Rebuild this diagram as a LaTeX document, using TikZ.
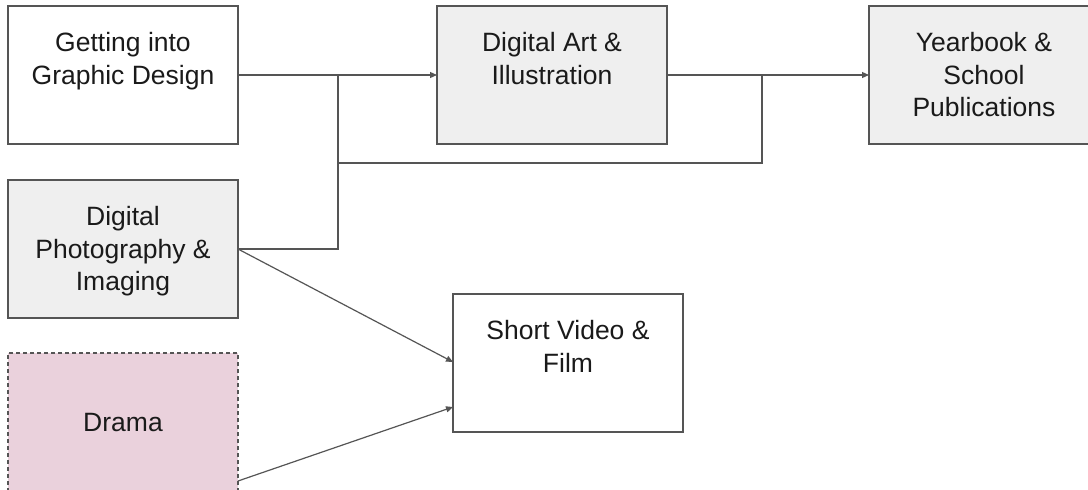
\documentclass[tikz,border=0pt]{standalone}
\usepackage{fontspec}
\setmainfont{Liberation Sans}
\usetikzlibrary{arrows.meta}
\definecolor{edgegray}{HTML}{555555}
\definecolor{lightfill}{HTML}{EFEFEF}
\definecolor{pinkfill}{HTML}{EAD1DC}
\definecolor{textgray}{HTML}{1A1A1A}
\begin{document}
\begin{tikzpicture}[x=1pt,y=-1pt,
  box/.style={draw=edgegray, line width=1.3pt, rectangle, anchor=north west,
    minimum width=230pt, minimum height=138pt, inner sep=0pt, outer sep=0pt,
    align=center, text=textgray, font=\fontsize{26.5}{32.5}\selectfont},
  twolines/.style={text height=51.5pt, text depth=33.5pt},
  threelines/.style={text height=84pt, text depth=1pt},
  graybox/.style={box, fill=lightfill},
  whitebox/.style={box, fill=white},
  dramabox/.style={box, dashed, dash pattern=on 4pt off 3pt,
    fill=pinkfill, minimum height=140pt},
  conn/.style={draw=edgegray, line width=1.2pt},
  arr/.style={conn, -{Triangle[length=7pt,width=6pt]}}
]
\useasboundingbox (0,0) rectangle (1088,490);
\fill[white] (0,0) rectangle (1088,490);

\node[whitebox, twolines] (gd) at (8,6) {Getting into\\Graphic Design};
\node[graybox, twolines] (art) at (437,6) {Digital Art \&\\Illustration};
\node[graybox, threelines] (yb) at (869,6) {Yearbook \&\\School\\Publications};
\node[graybox, threelines] (ph) at (8,180) {Digital\\Photography \&\\Imaging};
\node[dramabox] (dr) at (8,353) {Drama};
\node[whitebox, twolines] (sv) at (453,294) {Short Video \&\\Film};

\coordinate (j1) at (338,75);
\coordinate (m1) at (338,163);
\coordinate (m2) at (762,163);
\coordinate (j2) at (762,75);
\coordinate (drout) at (238,481);
\coordinate (svin1) at (453,362);
\coordinate (svin2) at (453,407);
\coordinate (phout) at (238,249);

\draw[arr] (gd.east) -- (art.west);
\draw[conn] (ph.east) -| (j1);
\draw[conn] (m1) -- (m2) -- (j2);
\draw[arr] (art.east) -- (yb.west);
\draw[arr] (phout) -- (svin1);
\draw[arr] (drout) -- (svin2);
\end{tikzpicture}
\end{document}
